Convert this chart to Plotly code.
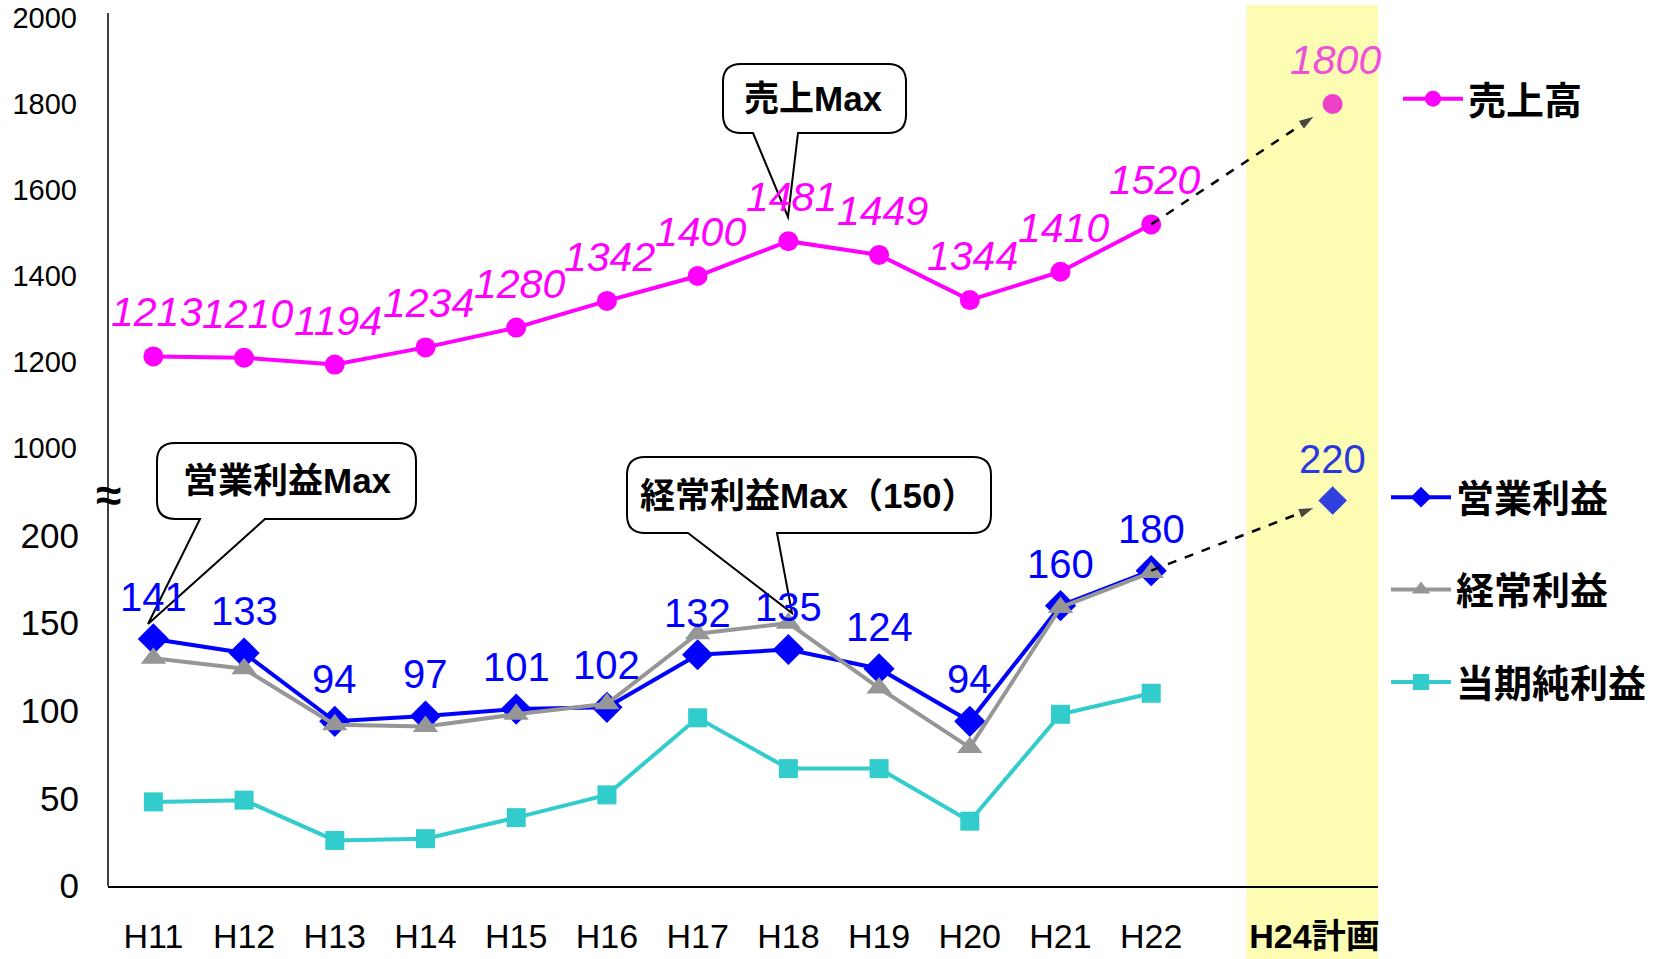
import plotly.graph_objects as go

# --- data -------------------------------------------------------------
years = ['H11', 'H12', 'H13', 'H14', 'H15', 'H16', 'H17', 'H18', 'H19',
         'H20', 'H21', 'H22']
plan_label = 'H24計画'

sales = [1213, 1210, 1194, 1234, 1280, 1342, 1400, 1481, 1449, 1344,
         1410, 1520]
operating = [141, 133, 94, 97, 101, 102, 132, 135, 124, 94, 160, 180]
ordinary = [130, 124, 92, 91, 98, 104, 144, 150, 113, 79, 159, 179]
net = [48, 49, 26, 27, 39, 52, 96, 67, 67, 37, 98, 110]

sales_plan = 1800
operating_plan = 220

lower_ticks = [0, 50, 100, 150, 200]
upper_ticks = [1000, 1200, 1400, 1600, 1800, 2000]

# --- geometry ---------------------------------------------------------
W, H = 1664, 959
ML, MR, MT, MB = 108, 286, 13, 73
PW, PH = W - ML - MR, H - MT - MB
SPLIT = 438 / PH          # lower panel (0-250) / upper panel (1000-2000)

FONT = 'Liberation Sans, Arial, Noto Sans CJK JP, sans-serif'
MAGENTA, BLUE, GRAY, TEAL = '#FF00FF', '#0000FF', '#969696', '#33CCCC'


def px(x):
    return (x - ML) / PW


def py(y):
    return (H - MB - y) / PH


xs = list(range(len(years)))
plan_x = len(years) + 1          # H23 slot is left empty
band_x0, band_x1 = plan_x - 0.95, plan_x + 0.55
ARROW_FRACTION = 0.9

fig = go.Figure()

# sales (upper panel)
fig.add_trace(go.Scatter(x=xs, y=sales, yaxis='y2', name='売上高',
                         mode='lines+markers', legend='legend',
                         line=dict(color=MAGENTA, width=4),
                         marker=dict(symbol='circle', size=20)))
fig.add_trace(go.Scatter(x=[plan_x], y=[sales_plan], yaxis='y2',
                         mode='markers', showlegend=False,
                         marker=dict(symbol='circle', size=20,
                                     color='#EE40C8')))

# profits (lower panel)
fig.add_trace(go.Scatter(x=xs, y=operating, name='営業利益',
                         mode='lines+markers', legend='legend2',
                         legendgroup='op',
                         line=dict(color=BLUE, width=4),
                         marker=dict(symbol='diamond', size=24)))
fig.add_trace(go.Scatter(x=xs, y=ordinary, name='経常利益',
                         mode='lines+markers', legend='legend2',
                         legendgroup='ord',
                         line=dict(color=GRAY, width=4),
                         marker=dict(symbol='triangle-up', size=22)))
fig.add_trace(go.Scatter(x=xs, y=net, name='当期純利益',
                         mode='lines+markers', legend='legend2',
                         legendgroup='net',
                         line=dict(color=TEAL, width=4),
                         marker=dict(symbol='square', size=19)))
fig.add_trace(go.Scatter(x=[plan_x], y=[operating_plan], mode='markers',
                         showlegend=False,
                         marker=dict(symbol='diamond', size=22,
                                     color='#3040DD')))

# dashed arrows toward the plan
for last, plan, ax in [(sales[-1], sales_plan, 'y2'),
                       (operating[-1], operating_plan, 'y')]:
    x_end = xs[-1] + ARROW_FRACTION * (plan_x - xs[-1])
    y_end = last + ARROW_FRACTION * (plan - last)
    fig.add_trace(go.Scatter(x=[xs[-1], x_end], y=[last, y_end], yaxis=ax,
                             mode='lines+markers', showlegend=False,
                             line=dict(color='black', width=2.5, dash='dash'),
                             marker=dict(symbol='arrow', size=[0, 17],
                                         angleref='previous',
                                         color='black')))

annotations = []
for i, v in enumerate(sales):
    annotations.append(dict(x=i, y=v, xref='x', yref='y2', text=str(v),
                            showarrow=False, yshift=44, xshift=3,
                            font=dict(size=41, color=MAGENTA,
                                      style='italic')))
annotations.append(dict(x=plan_x, y=sales_plan, xref='x', yref='y2',
                        text=str(sales_plan), showarrow=False, yshift=44,
                        xshift=3, font=dict(size=41, color='#EE50D8',
                                            style='italic')))
for i, v in enumerate(operating):
    annotations.append(dict(x=i, y=v, xref='x', yref='y', text=str(v),
                            showarrow=False, yshift=42,
                            font=dict(size=40, color=BLUE)))
annotations.append(dict(x=plan_x, y=operating_plan, xref='x', yref='y',
                        text=str(operating_plan), showarrow=False,
                        yshift=42, font=dict(size=40, color='#2838DD')))

# axis break mark
annotations.append(dict(x=0, y=py(495), xref='paper', yref='paper',
                        xanchor='center', yanchor='middle',
                        text='≈', showarrow=False,
                        font=dict(size=46, color='black', weight='bold')))


def bubble(l, r, t, b, a, c, tip, rad=18):
    pts = [('M', l + rad, t), ('L', r - rad, t), ('Q', r, t, r, t + rad),
           ('L', r, b - rad), ('Q', r, b, r - rad, b), ('L', c, b),
           ('L', tip[0], tip[1]), ('L', a, b), ('L', l + rad, b),
           ('Q', l, b, l, b - rad), ('L', l, t + rad),
           ('Q', l, t, l + rad, t)]
    path = ''
    for p in pts:
        coords = p[1:]
        seg = ' '.join('{:.5f},{:.5f}'.format(px(coords[k]), py(coords[k + 1]))
                       for k in range(0, len(coords), 2))
        path += p[0] + seg + ' '
    return path + 'Z'


callouts = [
    ('売上Max', (723, 906, 64, 133, 753, 798, (788, 217)), (813, 99)),
    ('営業利益Max', (157, 416, 443, 519, 200, 265, (148, 624)), (287, 480)),
    ('経常利益Max（150）', (627, 991, 457, 533, 688, 777, (792, 613)),
     (808, 495)),
]
shapes = [
    dict(type='rect', xref='x', yref='paper', x0=band_x0, x1=band_x1,
         y0=py(H), y1=py(5), fillcolor='#FCFCB2', line=dict(width=0),
         layer='below'),
    dict(type='line', xref='paper', yref='paper', x0=0, x1=0, y0=0, y1=1,
         line=dict(color='black', width=1.5)),
]
for text, (l, r, t, b, a, c, tip), (tx, ty) in callouts:
    shapes.append(dict(type='path', xref='paper', yref='paper',
                       path=bubble(l, r, t, b, a, c, tip),
                       fillcolor='white', line=dict(color='black', width=2),
                       layer='above'))
    annotations.append(dict(x=px(tx), y=py(ty), xref='paper', yref='paper',
                            xanchor='center', yanchor='middle',
                            text=text, showarrow=False,
                            font=dict(size=35, color='black',
                                      weight='bold')))

legend_font = dict(size=38, color='black', weight='bold')
fig.update_layout(
    width=W, height=H,
    margin=dict(l=ML, r=MR, t=MT, b=MB, autoexpand=False),
    paper_bgcolor='white', plot_bgcolor='rgba(0,0,0,0)',
    font=dict(family=FONT, color='black'),
    xaxis=dict(range=[-0.5, plan_x + 0.5], showgrid=False, zeroline=False,
               showline=True, linecolor='black', linewidth=1.5, ticks='',
               tickvals=xs + [(band_x0 + band_x1) / 2],
               ticktext=years + ['<b>' + plan_label + '</b>'],
               tickfont=dict(size=34), ticklabelstandoff=19,
               automargin=False),
    yaxis=dict(domain=[0, SPLIT], range=[0, 250], tickvals=lower_ticks,
               showgrid=False, zeroline=False, showline=False, ticks='',
               tickfont=dict(size=35), ticklabelstandoff=28,
               automargin=False),
    yaxis2=dict(domain=[SPLIT, 1], range=[1000, 1000 + 435 / 86 * 200],
                anchor='x', tickvals=upper_ticks, showgrid=False,
                zeroline=False, showline=False, ticks='',
                tickfont=dict(size=29), ticklabelstandoff=30,
                automargin=False),
    legend=dict(x=px(1398), y=py(99), xanchor='left', yanchor='middle',
                font=legend_font, bgcolor='rgba(0,0,0,0)', itemwidth=60),
    legend2=dict(x=px(1386), y=py(590), xanchor='left', yanchor='middle',
                 font=legend_font, bgcolor='rgba(0,0,0,0)', itemwidth=60,
                 tracegroupgap=40),
    shapes=shapes,
    annotations=annotations,
)

# the page body has a default 8px margin; drop it so the figure fills the window
fig.write_html('out.html', config={'displayModeBar': False},
               post_script="document.body.style.margin='0px';")
